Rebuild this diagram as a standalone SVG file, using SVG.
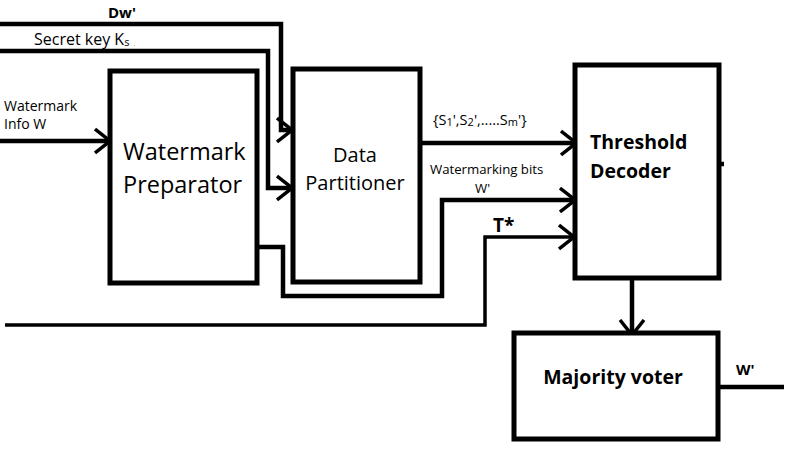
<svg xmlns="http://www.w3.org/2000/svg" width="798" height="454" viewBox="0 0 798 454">
<style>
.box{fill:#fff;stroke:#000;stroke-width:5}
.ln{fill:none;stroke:#000;stroke-width:4.5;stroke-linejoin:miter}
.t{font-family:"Open Sans","Liberation Sans",sans-serif;fill:#000}
.b{font-weight:bold}
</style>
<defs>
<marker id="ah" viewBox="0 0 18 28" refX="16" refY="14" markerWidth="18" markerHeight="28" markerUnits="userSpaceOnUse" orient="auto">
<path d="M1,2 L16,14 L1,26" fill="none" stroke="#000" stroke-width="3.5"/>
</marker>
</defs>
<g id="connectors">
<path class="ln" d="M0,24 H281 V130 H292" marker-end="url(#ah)"/>
<path class="ln" d="M0,51 H268 V188 H292" marker-end="url(#ah)"/>
<path class="ln" d="M0,141 H110" marker-end="url(#ah)"/>
<path class="ln" d="M257,247 H283 V296 H442 V200 H575" marker-end="url(#ah)"/>
<path class="ln" d="M420,143 H576" marker-end="url(#ah)"/>
<path class="ln" style="stroke-width:3.5" d="M5,325 H485 V237 H574" marker-end="url(#ah)"/>
<path class="ln" d="M632,278 V335" marker-end="url(#ah)"/>
<path class="ln" d="M718,387 H784"/>
<path class="ln" d="M719,164 H724"/>
</g>
<g id="labels">
<text class="t b" x="108" y="18" font-size="15">Dw'</text>
<text class="t" x="34" y="45" font-size="16">Secret key K<tspan font-size="11" dy="1">s</tspan><tspan font-size="6" dx="4">.</tspan></text>
<text class="t" x="4" y="111" font-size="14">Watermark</text>
<text class="t" x="4" y="129" font-size="14">Info W</text>
<text class="t" x="433" y="125" font-size="14.5">{S<tspan font-size="11" dy="1">1</tspan><tspan dy="-1">',S</tspan><tspan font-size="11" dy="1">2</tspan><tspan dy="-1">',.....S</tspan><tspan font-size="11" dy="1">m</tspan><tspan dy="-1">'}</tspan></text>
<text class="t" x="430" y="174" font-size="13.2">Watermarking bits</text>
<text class="t" x="475" y="193" font-size="13.2">W'</text>
<text class="t b" x="493" y="232" font-size="19">T*</text>
<text class="t b" x="736" y="375" font-size="15">W'</text>
</g>
<g id="watermark-preparator">
<rect class="box" x="110" y="71" width="147" height="212"/>
<text class="t" x="123" y="160" font-size="23.5">Watermark</text>
<text class="t" x="123" y="193" font-size="23.5">Preparator</text>
</g>
<g id="data-partitioner">
<rect class="box" x="293" y="69" width="127" height="213"/>
<text class="t" x="355" y="162" font-size="20" text-anchor="middle">Data</text>
<text class="t" x="355" y="190" font-size="20" text-anchor="middle">Partitioner</text>
</g>
<g id="threshold-decoder">
<rect class="box" x="575" y="65" width="144" height="213"/>
<text class="t b" x="590" y="149" font-size="19.5">Threshold</text>
<text class="t b" x="590" y="178" font-size="19.5">Decoder</text>
</g>
<g id="majority-voter">
<rect class="box" x="514" y="333" width="204" height="106"/>
<text class="t b" x="613" y="384" font-size="19.5" text-anchor="middle">Majority voter</text>
</g>
</svg>
